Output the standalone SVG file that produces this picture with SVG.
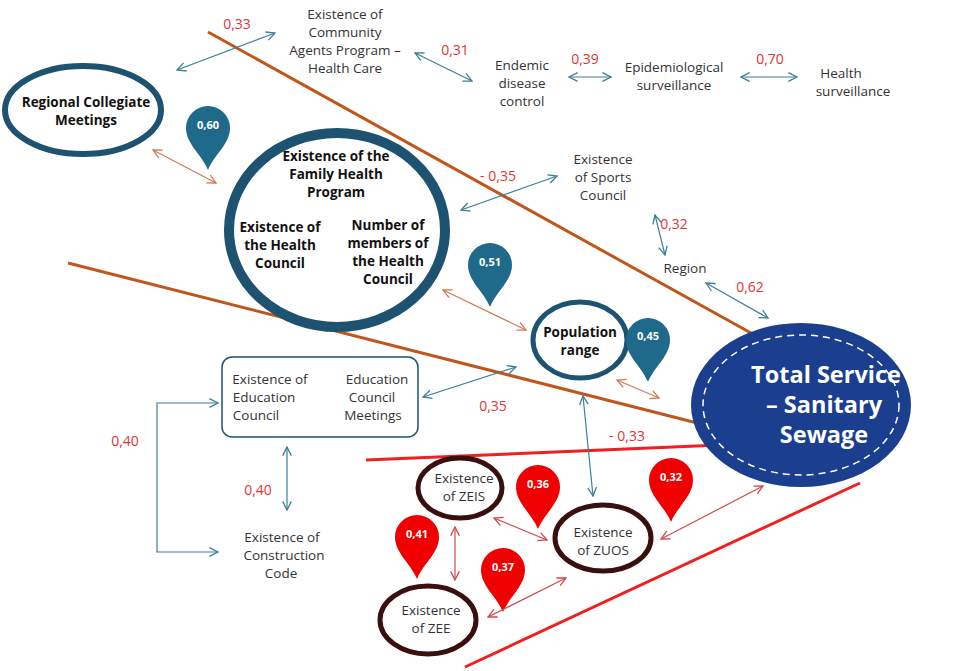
<svg xmlns="http://www.w3.org/2000/svg" width="960" height="671" viewBox="0 0 960 671">
<defs>
<marker id="ab" viewBox="0 0 10 10" refX="9" refY="5" markerWidth="9" markerHeight="9" orient="auto-start-reverse"><path d="M1,1 L9,5 L1,9" fill="none" stroke="#3d7f95" stroke-width="1.2"/></marker>
<marker id="ao" viewBox="0 0 10 10" refX="9" refY="5" markerWidth="9" markerHeight="9" orient="auto-start-reverse"><path d="M1,1 L9,5 L1,9" fill="none" stroke="#d07a55" stroke-width="1.2"/></marker>
<marker id="ar" viewBox="0 0 10 10" refX="9" refY="5" markerWidth="9" markerHeight="9" orient="auto-start-reverse"><path d="M1,1 L9,5 L1,9" fill="none" stroke="#d04a4a" stroke-width="1.2"/></marker>
<path id="pin" d="M0,32 C-6,17 -22,6 -22,-10 A22,22 0 1 1 22,-10 C22,6 6,17 0,32 Z"/>
</defs>
<style>
text{font-family:"Open Sans","Liberation Sans",sans-serif;font-size:13.5px;fill:#333;text-anchor:middle}
.b{font-weight:bold;fill:#111}
.v{fill:#e03434;font-size:14px}
.pt{fill:#fff;font-size:11px;font-weight:bold}
.cb{stroke:#3d7f95;stroke-width:1.2;fill:none;marker-start:url(#ab);marker-end:url(#ab)}
.co{stroke:#d07a55;stroke-width:1.2;fill:none;marker-start:url(#ao);marker-end:url(#ao)}
.cr{stroke:#d04a4a;stroke-width:1.2;fill:none;marker-start:url(#ar);marker-end:url(#ar)}
.tn{fill:#fff;stroke:#1d5370}
.rn{fill:#fff;stroke:#3a0f10;stroke-width:5}
.bp{fill:#1f6a8a}.rp{fill:#f00000}
.w{fill:#fff;font-size:23.5px;font-weight:bold}
</style>
<g id="lines">
<line x1="208" y1="32" x2="760" y2="338" stroke="#c0561c" stroke-width="3"/>
<line x1="68" y1="263" x2="705" y2="425" stroke="#c0561c" stroke-width="3"/>
<line x1="366" y1="460" x2="720" y2="445" stroke="#f02020" stroke-width="3"/>
<line x1="465" y1="667" x2="860" y2="483" stroke="#f02020" stroke-width="3"/>
</g>
<g id="n-regional"><ellipse cx="83" cy="110" rx="78" ry="44" class="tn" stroke-width="6"/><text x="86" y="107" class="b">Regional Collegiate</text><text x="86" y="125" class="b">Meetings</text></g>
<g id="n-family"><ellipse cx="337" cy="230" rx="108" ry="97" class="tn" stroke-width="10"/>
<text x="336" y="161" class="b">Existence of the</text><text x="336" y="179" class="b">Family Health</text><text x="336" y="197" class="b">Program</text>
<text x="280" y="232" class="b">Existence of</text><text x="280" y="250" class="b">the Health</text><text x="280" y="268" class="b">Council</text>
<text x="388" y="230" class="b">Number of</text><text x="388" y="248" class="b">members of</text><text x="388" y="266" class="b">the Health</text><text x="388" y="284" class="b">Council</text></g>
<g id="n-community"><text x="345" y="19">Existence of</text><text x="345" y="37">Community</text><text x="345" y="55">Agents Program –</text><text x="345" y="73">Health Care</text></g>
<g id="n-endemic"><text x="522" y="70">Endemic</text><text x="522" y="88">disease</text><text x="522" y="106">control</text></g>
<g id="n-epi"><text x="674" y="72">Epidemiological</text><text x="674" y="90">surveillance</text></g>
<g id="n-health"><text x="841" y="78">Health</text><text x="853" y="96">surveillance</text></g>
<g id="n-sports"><text x="603" y="164">Existence</text><text x="603" y="182">of Sports</text><text x="603" y="200">Council</text></g>
<g id="n-region"><text x="685" y="273">Region</text></g>
<g id="n-population"><ellipse cx="580" cy="340" rx="47" ry="38" class="tn" stroke-width="5"/><text x="580" y="337" class="b">Population</text><text x="580" y="355" class="b">range</text></g>
<g id="n-total"><ellipse cx="801" cy="405" rx="110" ry="82" fill="#1b3f8e"/><ellipse cx="801" cy="405" rx="98" ry="70" fill="none" stroke="#fff" stroke-width="1.5" stroke-dasharray="7 5"/>
<text x="826" y="383" class="w">Total Service</text><text x="824" y="413" class="w">– Sanitary</text><text x="824" y="443" class="w">Sewage</text></g>
<g id="n-education"><rect x="222" y="357" width="196" height="80" rx="10" fill="#fff" stroke="#1d5370" stroke-width="1.5"/>
<text x="270" y="384">Existence of</text><text x="264" y="402">Education</text><text x="256" y="420">Council</text>
<text x="377" y="384">Education</text><text x="372" y="402">Council</text><text x="373" y="420">Meetings</text></g>
<g id="n-construction"><text x="282" y="542">Existence of</text><text x="284" y="560">Construction</text><text x="281" y="578">Code</text></g>
<g id="n-zeis"><ellipse cx="460" cy="488" rx="42" ry="30" class="rn"/><text x="464" y="483">Existence</text><text x="464" y="501">of ZEIS</text></g>
<g id="n-zuos"><ellipse cx="603" cy="538" rx="48" ry="33" class="rn"/><text x="603" y="537">Existence</text><text x="603" y="555">of ZUOS</text></g>
<g id="n-zee"><ellipse cx="428" cy="620" rx="48" ry="34" class="rn"/><text x="431" y="615">Existence</text><text x="431" y="633">of ZEE</text></g>
<g id="pins">
<use href="#pin" x="208" y="138" class="bp"/><text x="208" y="129" class="pt">0,60</text>
<use href="#pin" x="490" y="275" class="bp"/><text x="490" y="266" class="pt">0,51</text>
<use href="#pin" x="648" y="350" class="bp"/><text x="648" y="340" class="pt">0,45</text>
<use href="#pin" x="538" y="497" class="rp"/><text x="538" y="488" class="pt">0,36</text>
<use href="#pin" x="671" y="490" class="rp"/><text x="671" y="481" class="pt">0,32</text>
<use href="#pin" x="417" y="547" class="rp"/><text x="417" y="538" class="pt">0,41</text>
<use href="#pin" x="503" y="580" class="rp"/><text x="503" y="571" class="pt">0,37</text>
</g>
<g id="connectors">
<line x1="177" y1="70" x2="275" y2="33" class="cb"/>
<line x1="415" y1="53" x2="472" y2="81" class="cb"/>
<line x1="569" y1="77" x2="611" y2="77" class="cb"/>
<line x1="741" y1="77" x2="797" y2="77" class="cb"/>
<line x1="153" y1="150" x2="216" y2="183" class="co"/>
<line x1="461" y1="210" x2="557" y2="176" class="cb"/>
<line x1="655" y1="215" x2="665" y2="255" class="cb"/>
<line x1="706" y1="283" x2="768" y2="318" class="cb"/>
<line x1="443" y1="290" x2="526" y2="330" class="co"/>
<line x1="423" y1="397" x2="516" y2="367" class="cb"/>
<line x1="617" y1="380" x2="659" y2="398" class="co"/>
<line x1="583" y1="396" x2="593" y2="496" class="cb"/>
<line x1="287" y1="447" x2="287" y2="510" class="cb"/>
<path d="M218,403 H157 V552 H218" class="cb"/>
<line x1="494" y1="518" x2="547" y2="540" class="cr"/>
<line x1="455" y1="527" x2="455" y2="580" class="cr"/>
<line x1="488" y1="617" x2="566" y2="578" class="cr"/>
<line x1="661" y1="539" x2="763" y2="486" class="cr"/>
</g>
<g id="values">
<text x="237" y="29" class="v">0,33</text><text x="455" y="55" class="v">0,31</text><text x="585" y="64" class="v">0,39</text><text x="770" y="64" class="v">0,70</text>
<text x="498" y="181" class="v">- 0,35</text><text x="674" y="229" class="v">0,32</text><text x="750" y="292" class="v">0,62</text>
<text x="493" y="411" class="v">0,35</text><text x="627" y="441" class="v">- 0,33</text><text x="125" y="446" class="v">0,40</text><text x="258" y="495" class="v">0,40</text>
</g>
</svg>
